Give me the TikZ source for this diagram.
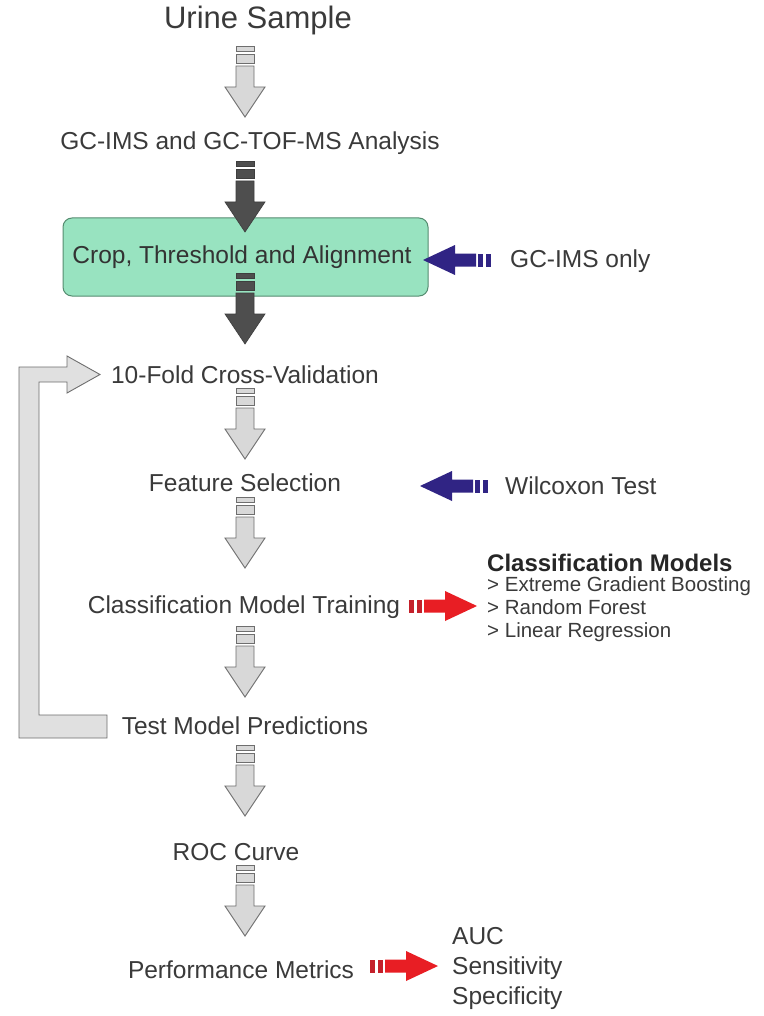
\documentclass[tikz,border=0pt]{standalone}
\usepackage{fontspec}
\setmainfont{Liberation Sans}
\definecolor{txt}{RGB}{58,58,58}
\definecolor{gfill}{RGB}{216,216,216}
\definecolor{gline}{RGB}{110,110,110}
\definecolor{dfill}{RGB}{78,78,78}
\definecolor{dline}{RGB}{62,62,62}
\definecolor{boxfill}{RGB}{152,227,192}
\definecolor{boxline}{RGB}{85,140,112}
\definecolor{blu}{RGB}{48,36,132}
\definecolor{redA}{RGB}{232,30,36}
\definecolor{redB}{RGB}{196,32,42}
\tikzset{
  hbar/.code={\colorlet{hbarc}{#1}},
  vblk/.pic={
    \path[pic actions] (-9,0) rectangle (9,5);
    \path[pic actions] (-9,8) rectangle (9,17);
    \path[pic actions] (-9,20) -- (9,20) -- (9,41) -- (20,41) -- (0,71) -- (-20,41) -- (-9,41) -- cycle;
  },
  hblk/.pic={
    \path[pic actions] (0,0) -- (32,-15) -- (32,-6.5) -- (53,-6.5) -- (53,6.5) -- (32,6.5) -- (32,15) -- cycle;
    \fill[hbarc] (55,-6.5) rectangle (60,6.5);
    \fill[hbarc] (63,-6.5) rectangle (68,6.5);
  },
  lbl/.style={font=\fontsize{24.5}{29.5}\selectfont, text=txt, inner sep=0pt},
  lst/.style={font=\fontsize{20.5}{23}\selectfont, text=txt, inner sep=0pt, align=left},
  gray/.style={fill=gfill, draw=gline, line width=0.9pt},
  dark/.style={fill=dfill, draw=dline, line width=0.6pt},
}
\begin{document}
\begin{tikzpicture}[x=1pt,y=-1pt]
\useasboundingbox (0,0) rectangle (763,1016);
\fill[white] (0,0) rectangle (763,1016);

% nodes
\node[lbl, font=\fontsize{31}{36}\selectfont] (urine) at (258,20) {Urine Sample};
\node[lbl] (gcms) at (250,143) {GC-IMS and GC-TOF-MS Analysis};
\node[draw=boxline, fill=boxfill, line width=1pt, rounded corners=9pt,
      minimum width=365pt, minimum height=78pt] (cropbox) at (245.5,257) {};
\node[lbl, text=black!80] (crop) at (242,257) {Crop, Threshold and Alignment};
\node[lbl, anchor=west] (gconly) at (510,261) {GC-IMS only};
\node[lbl] (cv) at (245,375) {10-Fold Cross-Validation};
\node[lbl] (fs) at (245,483) {Feature Selection};
\node[lbl, anchor=west] (wil) at (505,486) {Wilcoxon Test};
\node[lbl] (cmt) at (244,607) {Classification Model Training};
\node[lbl, font=\fontsize{24}{29}\selectfont\bfseries, text=black!85, anchor=west] (cmh) at (487,563) {Classification Models};
\node[lst, anchor=north west] (cml) at (487,576) {> Extreme Gradient Boosting\\> Random Forest\\> Linear Regression};
\node[lbl] (tmp) at (245,726) {Test Model Predictions};
\node[lbl] (roc) at (236,852) {ROC Curve};
\node[lbl] (pm) at (241,970) {Performance Metrics};
\node[lbl, anchor=west, align=left, font=\fontsize{24.5}{30}\selectfont] (met) at (452,968) {AUC\\Sensitivity\\Specificity};

% vertical block arrows
\pic[gray] at (245,46) {vblk};
\pic[dark] at (245,161) {vblk};
\pic[dark] at (245,273) {vblk};
\pic[gray] at (245,388) {vblk};
\pic[gray] at (245,497) {vblk};
\pic[gray] at (245,626) {vblk};
\pic[gray] at (245,745) {vblk};
\pic[gray] at (245,865) {vblk};

% horizontal block arrows
\pic[fill=blu, hbar=blu] at (423,260) {hblk};
\pic[fill=blu, hbar=blu] at (420,486) {hblk};
\pic[fill=redA, hbar=redB, xscale=-1] at (477,606) {hblk};
\pic[fill=redA, hbar=redB, xscale=-1] at (438,966) {hblk};

% feedback loop arrow
\draw[fill=gfill!80!white, draw=gline, line width=0.9pt]
  (107,715) -- (39,715) -- (39,382) -- (67,382) -- (67,393) -- (100,374.5)
  -- (67,356) -- (67,367) -- (19,367) -- (19,738) -- (107,738) -- cycle;
\end{tikzpicture}
\end{document}
